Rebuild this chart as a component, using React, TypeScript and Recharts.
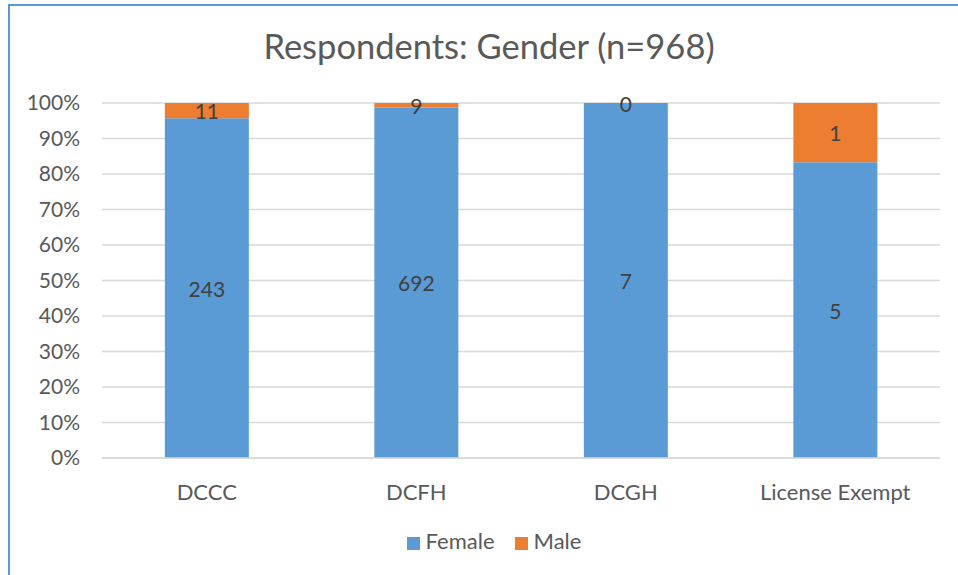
import { BarChart, Bar, XAxis, YAxis, CartesianGrid, Legend, LabelList } from 'recharts'

const categories = ['DCCC', 'DCFH', 'DCGH', 'License Exempt']
const female = [243, 692, 7, 5]
const male = [11, 9, 0, 1]
const yTicks = [0, 0.1, 0.2, 0.3, 0.4, 0.5, 0.6, 0.7, 0.8, 0.9, 1]

const data = categories.map((name, i) => ({ name, Female: female[i], Male: male[i] }))

const font = 'Lato, "Open Sans", sans-serif'

const labelText = (x: number, y: number, value: any, key?: string) => (
  <text
    key={key}
    x={x}
    y={y}
    textAnchor="middle"
    dominantBaseline="central"
    fill="#404040"
    fontSize={21}
    fontFamily={font}
  >
    {value}
  </text>
)

// recharts skips zero-height segments, so the Female label also draws a zero Male count on top
const FemaleLabel = (props: any) => {
  const { x, y, width, height, value, index } = props
  const cx = Number(x) + Number(width) / 2
  return (
    <g>
      {labelText(cx, Number(y) + Number(height) / 2, value)}
      {male[index] === 0 ? labelText(cx, Number(y), 0) : null}
    </g>
  )
}

const MaleLabel = (props: any) => {
  const { x, y, width, height, value } = props
  return labelText(Number(x) + Number(width) / 2, Number(y) + Number(height) / 2, value)
}

export default function App() {
  return (
    <div style={{ position: 'absolute', left: 0, top: 0, width: 958, height: 575, background: '#fff', fontFamily: font }}>
      <div
        style={{
          position: 'absolute',
          left: 8,
          top: 4,
          right: -10,
          bottom: -10,
          borderLeft: '2px solid #5b9bd5',
          borderTop: '2px solid #5b9bd5',
        }}
      />
      <div
        style={{
          position: 'absolute',
          left: 0,
          width: 978,
          top: 25,
          textAlign: 'center',
          fontSize: 34.5,
          color: '#595959',
        }}
      >
        Respondents: Gender (n=968)
      </div>
      <BarChart
        width={958}
        height={575}
        data={data}
        stackOffset="expand"
        barCategoryGap="30%"
        margin={{ top: 103, right: 18, bottom: 21, left: 0 }}
        style={{ position: 'absolute', left: 0, top: 0 }}
      >
        <CartesianGrid vertical={false} stroke="#d9d9d9" strokeWidth={1.5} />
        <XAxis
          dataKey="name"
          tickLine={false}
          axisLine={{ stroke: '#d9d9d9', strokeWidth: 1.5 }}
          tick={{ fill: '#595959', fontSize: 22, fontFamily: font }}
          tickMargin={20}
          height={69}
        />
        <YAxis
          width={102}
          ticks={yTicks}
          domain={[0, 1]}
          tickFormatter={(v) => `${Math.round(v * 100)}%`}
          tickLine={false}
          axisLine={false}
          tick={{ fill: '#595959', fontSize: 21, fontFamily: font }}
          tickMargin={16}
        />
        <Legend
          iconType="square"
          iconSize={13}
          verticalAlign="bottom"
          wrapperStyle={{ left: 34, fontSize: 22, color: '#595959', fontFamily: font }}
          formatter={(v) => <span style={{ color: '#595959', marginLeft: 2, marginRight: 10 }}>{v}</span>}
        />
        <Bar dataKey="Female" stackId="a" fill="#5b9bd5" isAnimationActive={false}>
          <LabelList dataKey="Female" content={FemaleLabel} />
        </Bar>
        <Bar dataKey="Male" stackId="a" fill="#ed7d31" isAnimationActive={false}>
          <LabelList dataKey="Male" content={MaleLabel} />
        </Bar>
      </BarChart>
    </div>
  )
}
